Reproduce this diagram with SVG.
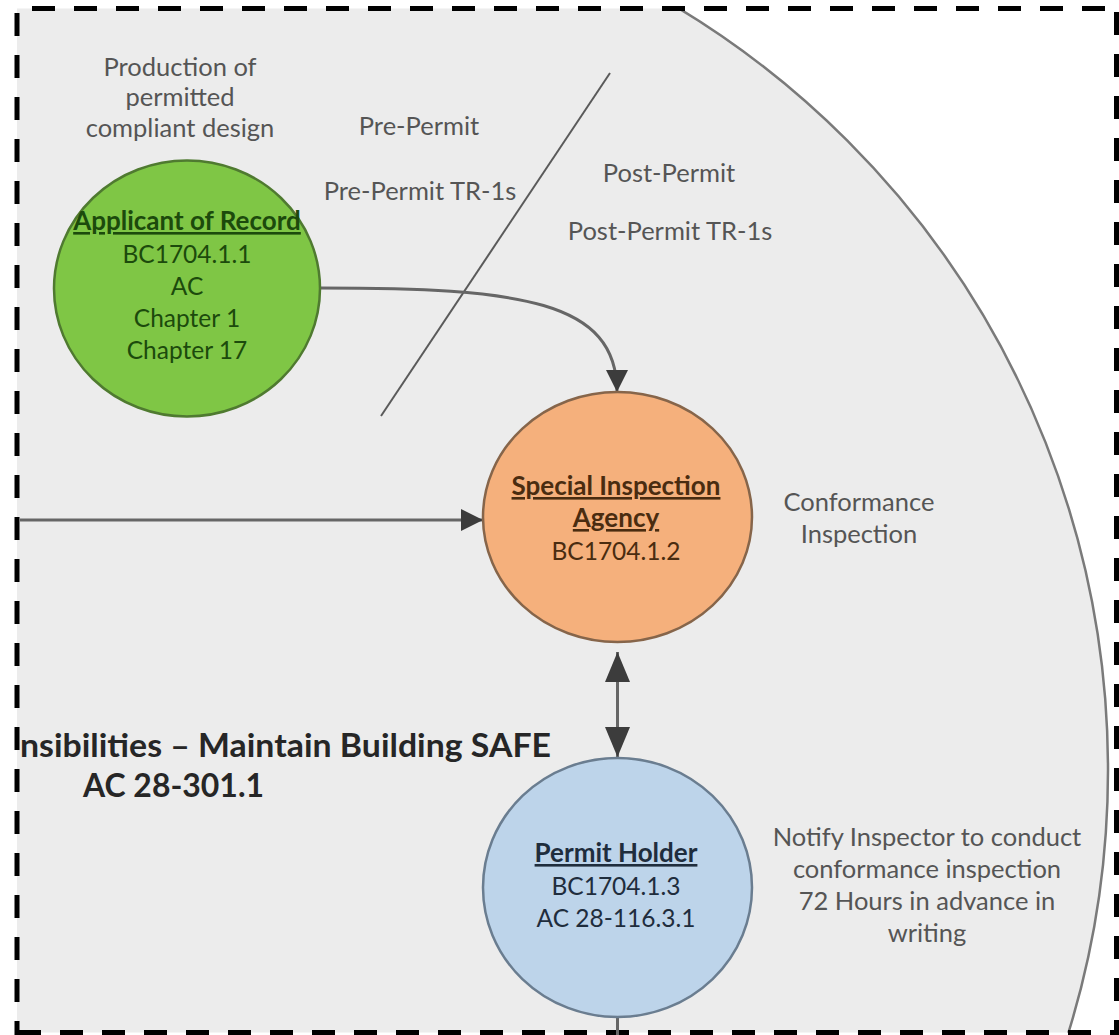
<svg xmlns="http://www.w3.org/2000/svg" width="1119" height="1035" viewBox="0 0 1119 1035">
<defs>
<style>
.t{font-family:Lato,"Liberation Sans",sans-serif;font-size:24.5px;text-anchor:middle}
.note{fill:#555555;font-size:25.5px}
.b{font-weight:bold;font-size:26px}
.u{text-decoration:underline}
.conn{fill:none;stroke:#666666;stroke-width:3}
.border{fill:none;stroke:#000;stroke-width:5;stroke-dasharray:23 19}
</style>
<marker id="ah" viewBox="0 0 10 10" refX="10" refY="5" markerWidth="22" markerHeight="22" markerUnits="userSpaceOnUse" orient="auto-start-reverse">
<path d="M0,0 L10,5 L0,10 Z" fill="#3c3c3c"/>
</marker>
<marker id="ah2" viewBox="0 0 12 10" refX="12" refY="5" markerWidth="30" markerHeight="25" markerUnits="userSpaceOnUse" orient="auto-start-reverse">
<path d="M0,0 L12,5 L0,10 Z" fill="#3c3c3c"/>
</marker>
<clipPath id="frame"><rect x="17" y="8.5" width="1100" height="1024"/></clipPath>
</defs>
<rect width="1119" height="1035" fill="#ffffff"/>
<g id="background" clip-path="url(#frame)">
<circle cx="218" cy="770" r="890" fill="#ececec" stroke="#7a7a7a" stroke-width="2.5"/>
</g>
<g id="border">
<line class="border" x1="32" y1="8.5" x2="1119" y2="8.5"/>
<line class="border" x1="17" y1="13" x2="17" y2="1035"/>
<line class="border" x1="1116.5" y1="12" x2="1116.5" y2="1035"/>
<line class="border" x1="18" y1="1032.5" x2="1119" y2="1032.5"/>
</g>
<g id="divider">
<line x1="610" y1="73" x2="381" y2="416" stroke="#5a5a5a" stroke-width="2"/>
</g>
<g id="connectors">
<path class="conn" d="M320,288 C520,288 617,300 617,392" marker-end="url(#ah)"/>
<path class="conn" d="M20,520 L483,520" marker-end="url(#ah)"/>
<path class="conn" d="M617.5,652 L617.5,757" marker-start="url(#ah2)" marker-end="url(#ah2)"/>
<path class="conn" d="M617.5,1017 L617.5,1035"/>
</g>
<g id="node-applicant">
<ellipse cx="187" cy="288.5" rx="133" ry="128" fill="#7fc645" stroke="#4f7a30" stroke-width="2.5"/>
<g class="t" fill="#1c4a0c">
<text x="187" y="230" class="b u">Applicant of Record</text>
<text x="187" y="263">BC1704.1.1</text>
<text x="187" y="295">AC</text>
<text x="187" y="327">Chapter 1</text>
<text x="187" y="359">Chapter 17</text>
</g>
</g>
<g id="node-sia">
<ellipse cx="617.5" cy="517" rx="134.5" ry="125" fill="#f5b07c" stroke="#86654a" stroke-width="2.5"/>
<g class="t" fill="#4a2c10">
<text x="616" y="495" class="b u">Special Inspection</text>
<text x="616" y="527" class="b u">Agency</text>
<text x="616" y="560">BC1704.1.2</text>
</g>
</g>
<g id="node-permit-holder">
<ellipse cx="617.5" cy="887.5" rx="134.5" ry="129.5" fill="#bdd4ea" stroke="#6a7d90" stroke-width="2.5"/>
<g class="t" fill="#1f2d3d">
<text x="616" y="862" class="b u">Permit Holder</text>
<text x="616" y="895">BC1704.1.3</text>
<text x="616" y="927">AC 28-116.3.1</text>
</g>
</g>
<g id="labels" class="t note">
<text x="180" y="76">Production of</text>
<text x="180" y="106">permitted</text>
<text x="180" y="137">compliant design</text>
<text x="419" y="135">Pre-Permit</text>
<text x="420" y="200">Pre-Permit TR-1s</text>
<text x="669" y="182">Post-Permit</text>
<text x="670" y="240">Post-Permit TR-1s</text>
<text x="859" y="511">Conformance</text>
<text x="859" y="543">Inspection</text>
<text x="927" y="846">Notify Inspector to conduct</text>
<text x="927" y="878">conformance inspection</text>
<text x="927" y="910">72 Hours in advance in</text>
<text x="927" y="942">writing</text>
</g>
<g id="title" style="font-family:Lato,'Liberation Sans',sans-serif;font-weight:bold;font-size:32px;fill:#262626">
<text x="20" y="757" textLength="531" lengthAdjust="spacingAndGlyphs">nsibilities – Maintain Building SAFE</text>
<text x="83" y="797" textLength="181" lengthAdjust="spacingAndGlyphs">AC 28-301.1</text>
</g>
</svg>
